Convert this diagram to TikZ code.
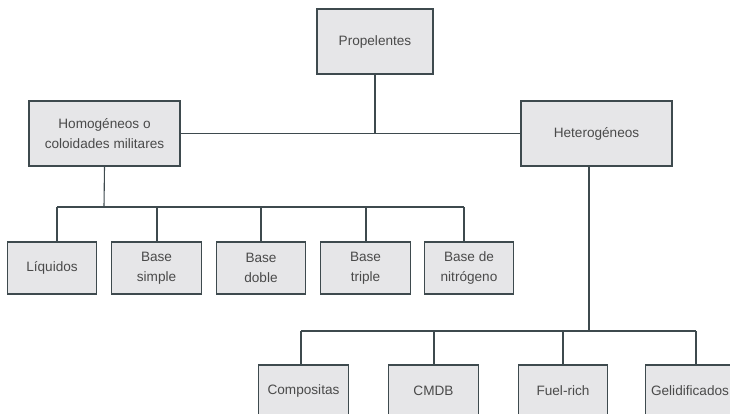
\documentclass[tikz,border=0pt]{standalone}
\usepackage{fontspec}
\setmainfont{Liberation Sans}
\definecolor{boxfill}{HTML}{E6E6E8}
\definecolor{edge}{HTML}{3E4A4E}
\definecolor{txt}{HTML}{4A4A4A}
\begin{document}
\begin{tikzpicture}[x=1pt,y=-1pt,
  box/.style={draw=edge,fill=boxfill,line width=1.1pt,rectangle,inner sep=0pt,
    text=txt,align=center,font=\fontsize{13.6}{19.5}\selectfont},
  top/.style={box,minimum width=116pt,minimum height=65pt},
  mid/.style={box,minimum width=151pt,minimum height=65pt},
  leaf/.style={box,minimum width=89.5pt,minimum height=52pt},
  link/.style={draw=edge,line width=1.1pt}]
\useasboundingbox (0,0) rectangle (730,413);
\clip (0,0) rectangle (730,413);
% nodes
\node[top] (prop) at (375,41.5) {Propelentes};
\node[mid] (homo) at (104.5,133.5) {Homogéneos o\\coloidades militares};
\node[mid] (hete) at (596.5,133.5) {Heterogéneos};
\node[leaf] (liq) at (52,268) {Líquidos};
\node[leaf] (bs) at (156.5,268) {Base\\simple};
\node[leaf] (bd) at (261,268) {Base\\doble};
\node[leaf] (bt) at (365.5,268) {Base\\triple};
\node[leaf] (bn) at (469,268) {Base de\\nitrógeno};
\node[leaf] (comp) at (303.5,391) {Compositas};
\node[leaf] (cmdb) at (433.5,391) {CMDB};
\node[leaf] (fuel) at (563,391) {Fuel-rich};
\node[leaf] (geli) at (690,391) {Gelidificados};
% junction coordinates
\coordinate (hj) at (104,207);
\coordinate (l1) at (57,207);
\coordinate (l2) at (157,207);
\coordinate (l3) at (261,207);
\coordinate (l4) at (366,207);
\coordinate (l5) at (464,207);
\coordinate (hs) at (589,167);
\coordinate (hb) at (589,331);
\coordinate (r1) at (301,331);
\coordinate (r2) at (434,331);
\coordinate (r3) at (563,331);
\coordinate (r4) at (696,331);
% connectors
\draw[link] (prop.south) -- (prop.south |- homo.east);
\draw[link] (homo.east) -- (hete.west);
\draw[link] (homo.south) -- (hj);
\draw[link] (l1) -- (l5);
\draw[link] (l1) -- (l1 |- liq.north);
\draw[link] (l2) -- (l2 |- bs.north);
\draw[link] (l3) -- (l3 |- bd.north);
\draw[link] (l4) -- (l4 |- bt.north);
\draw[link] (l5) -- (l5 |- bn.north);
\draw[link] (hs) -- (hb);
\draw[link] (r1) -- (r4);
\draw[link] (r1) -- (r1 |- comp.north);
\draw[link] (r2) -- (r2 |- cmdb.north);
\draw[link] (r3) -- (r3 |- fuel.north);
\draw[link] (r4) -- (r4 |- geli.north);
\end{tikzpicture}
\end{document}
